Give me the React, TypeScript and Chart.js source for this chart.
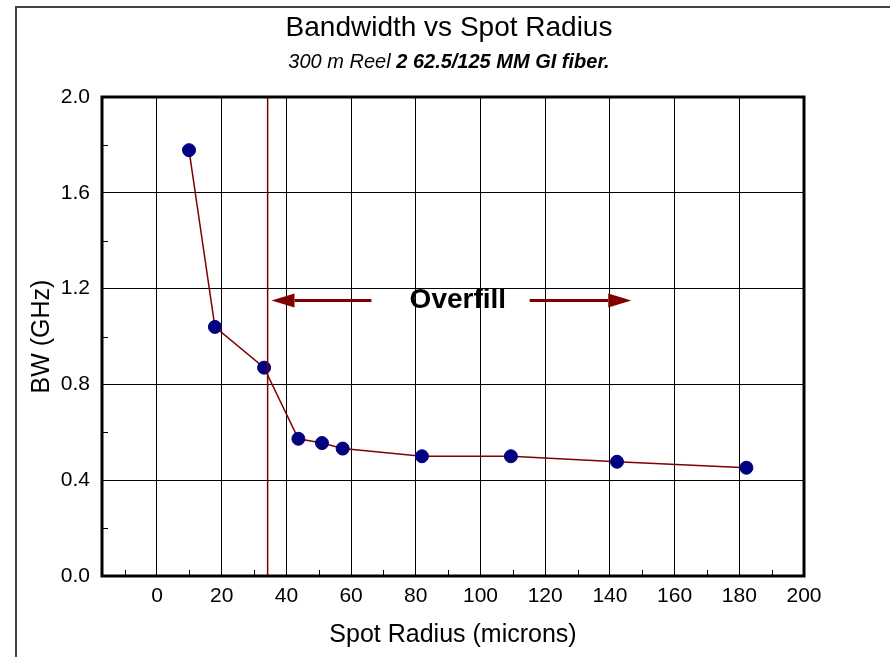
import React, { useEffect, useRef } from "react";
import { Chart, registerables } from "chart.js";

Chart.register(...registerables);

// ---- data ----
const spotRadius = [9.9, 17.9, 33.1, 43.7, 51.0, 57.4, 81.9, 109.4, 142.2, 182.2];
const bandwidth = [1.778, 1.04, 0.87, 0.573, 0.555, 0.532, 0.5, 0.5, 0.477, 0.452];

const xTicks = [0, 20, 40, 60, 80, 100, 120, 140, 160, 180, 200];
const xMinorTicks = [-10, 10, 30, 50, 70, 90, 110, 130, 150, 170, 190];
const yTicks = [0, 0.4, 0.8, 1.2, 1.6, 2.0];
const yMinorTicks = [0.2, 0.6, 1.0, 1.4, 1.8];
const xRange = [-17, 200];
const yRange = [0, 2];

const overfillBoundaryX = 34.2;
const leftArrowX = [66.3, 35.4]; // tail, tip
const rightArrowX = [115.2, 146.6]; // tail, tip
const arrowY = 1.15;
const overfillLabelX = 93;
const overfillLabelY = 1.15;

const titleText = "Bandwidth vs Spot Radius";
const subtitleItalic = "300 m Reel ";
const subtitleBold = "2 62.5/125 MM GI fiber.";
const xTitle = "Spot Radius (microns)";
const yTitle = "BW (GHz)";

const FONT = "'Liberation Sans', Arial, Helvetica, sans-serif";
const DARK_RED = "#800000";
const NAVY = "#000080";

const decorPlugin = {
  id: "decor",
  beforeDraw(chart: any) {
    const ctx = chart.ctx;
    ctx.save();
    ctx.fillStyle = "#ffffff";
    ctx.fillRect(0, 0, chart.width, chart.height);
    // outer frame
    ctx.strokeStyle = "#444444";
    ctx.lineWidth = 2;
    ctx.beginPath();
    ctx.moveTo(16, chart.height);
    ctx.lineTo(16, 7);
    ctx.lineTo(chart.width, 7);
    ctx.stroke();
    // titles
    const cx = 449;
    ctx.fillStyle = "#000";
    ctx.textBaseline = "middle";
    ctx.textAlign = "center";
    ctx.font = `28px ${FONT}`;
    ctx.fillText(titleText, cx, 28);
    ctx.textAlign = "left";
    const f1 = `italic 20px ${FONT}`;
    const f2 = `italic bold 20px ${FONT}`;
    ctx.font = f1;
    const w1 = ctx.measureText(subtitleItalic).width;
    ctx.font = f2;
    const w2 = ctx.measureText(subtitleBold).width;
    const sx = cx - (w1 + w2) / 2;
    ctx.font = f1;
    ctx.fillText(subtitleItalic, sx, 62);
    ctx.font = f2;
    ctx.fillText(subtitleBold, sx + w1, 62);
    ctx.restore();
  },
  afterDraw(chart: any) {
    const ctx = chart.ctx;
    const xs = chart.scales.x;
    const ys = chart.scales.y;
    const a = chart.chartArea;
    ctx.save();
    // minor ticks
    ctx.strokeStyle = "#000";
    ctx.lineWidth = 1;
    ctx.beginPath();
    xMinorTicks.forEach((v) => {
      const px = Math.round(xs.getPixelForValue(v)) + 0.5;
      ctx.moveTo(px, a.bottom);
      ctx.lineTo(px, a.bottom - 6);
    });
    yMinorTicks.forEach((v) => {
      const py = Math.round(ys.getPixelForValue(v)) + 0.5;
      ctx.moveTo(a.left, py);
      ctx.lineTo(a.left + 6, py);
    });
    ctx.stroke();
    // plot border
    ctx.lineWidth = 3;
    ctx.strokeRect(a.left, a.top, a.right - a.left, a.bottom - a.top);
    // arrows
    const y = ys.getPixelForValue(arrowY);
    const drawArrow = (tail: number, tip: number) => {
      const pTail = xs.getPixelForValue(tail);
      const pTip = xs.getPixelForValue(tip);
      const dir = pTip > pTail ? 1 : -1;
      const headLen = 23;
      ctx.strokeStyle = DARK_RED;
      ctx.fillStyle = DARK_RED;
      ctx.lineWidth = 3;
      ctx.beginPath();
      ctx.moveTo(pTail, y);
      ctx.lineTo(pTip - dir * headLen, y);
      ctx.stroke();
      ctx.beginPath();
      ctx.moveTo(pTip, y);
      ctx.lineTo(pTip - dir * headLen, y - 7);
      ctx.lineTo(pTip - dir * headLen, y + 7);
      ctx.closePath();
      ctx.fill();
    };
    drawArrow(leftArrowX[0], leftArrowX[1]);
    drawArrow(rightArrowX[0], rightArrowX[1]);
    // label
    ctx.fillStyle = "#000";
    ctx.font = `bold 28px ${FONT}`;
    ctx.textAlign = "center";
    ctx.textBaseline = "middle";
    ctx.fillText("Overfill", xs.getPixelForValue(overfillLabelX), ys.getPixelForValue(overfillLabelY));
    ctx.restore();
  },
};

export default function App() {
  const ref = useRef<HTMLCanvasElement | null>(null);
  useEffect(() => {
    if (!ref.current) return;
    const points = spotRadius.map((x, i) => ({ x, y: bandwidth[i] }));
    const chart = new Chart(ref.current, {
      type: "scatter",
      data: {
        datasets: [
          {
            data: [
              { x: overfillBoundaryX, y: yRange[0] },
              { x: overfillBoundaryX, y: yRange[1] },
            ],
            showLine: true,
            borderColor: DARK_RED,
            borderWidth: 1.5,
            pointRadius: 0,
          },
          {
            data: points,
            showLine: true,
            borderColor: DARK_RED,
            borderWidth: 1.5,
            pointRadius: 6.5,
            pointBorderWidth: 1,
            pointBackgroundColor: NAVY,
            pointBorderColor: NAVY,
          },
        ],
      },
      options: {
        responsive: false,
        animation: false,
        events: [],
        layout: { padding: { left: 16, top: 97, right: 86, bottom: 0 } },
        plugins: {
          legend: { display: false },
          tooltip: { enabled: false },
          title: { display: false },
        },
        scales: {
          x: {
            type: "linear",
            min: xRange[0],
            max: xRange[1],
            afterBuildTicks: (s: any) => {
              s.ticks = xTicks.map((v) => ({ value: v }));
            },
            afterFit: (s: any) => {
              s.height = 81;
            },
            grid: { color: "#000", lineWidth: 1, drawTicks: false },
            border: { display: false },
            ticks: {
              padding: 8,
              color: "#000",
              font: { family: FONT, size: 21 },
              maxRotation: 0,
              autoSkip: false,
            },
            title: {
              display: true,
              text: xTitle,
              color: "#000",
              font: { family: FONT, size: 25 },
              padding: { top: 0, bottom: 7 },
            },
          },
          y: {
            type: "linear",
            min: yRange[0],
            max: yRange[1],
            afterBuildTicks: (s: any) => {
              s.ticks = yTicks.map((v) => ({ value: v }));
            },
            afterFit: (s: any) => {
              s.width = 86;
            },
            grid: { color: "#000", lineWidth: 1, drawTicks: false },
            border: { display: false },
            ticks: {
              padding: 12,
              color: "#000",
              font: { family: FONT, size: 21 },
              autoSkip: false,
              callback: (v: any) => Number(v).toFixed(1),
            },
            title: {
              display: true,
              text: yTitle,
              color: "#000",
              font: { family: FONT, size: 25 },
              padding: { top: 11, bottom: 0 },
            },
          },
        },
      },
      plugins: [decorPlugin],
    });
    return () => chart.destroy();
  }, []);
  return (
    <div style={{ position: "absolute", left: 0, top: 0, width: 890, height: 657 }}>
      <canvas ref={ref} width={890} height={657} style={{ width: 890, height: 657, display: "block" }} />
    </div>
  );
}
